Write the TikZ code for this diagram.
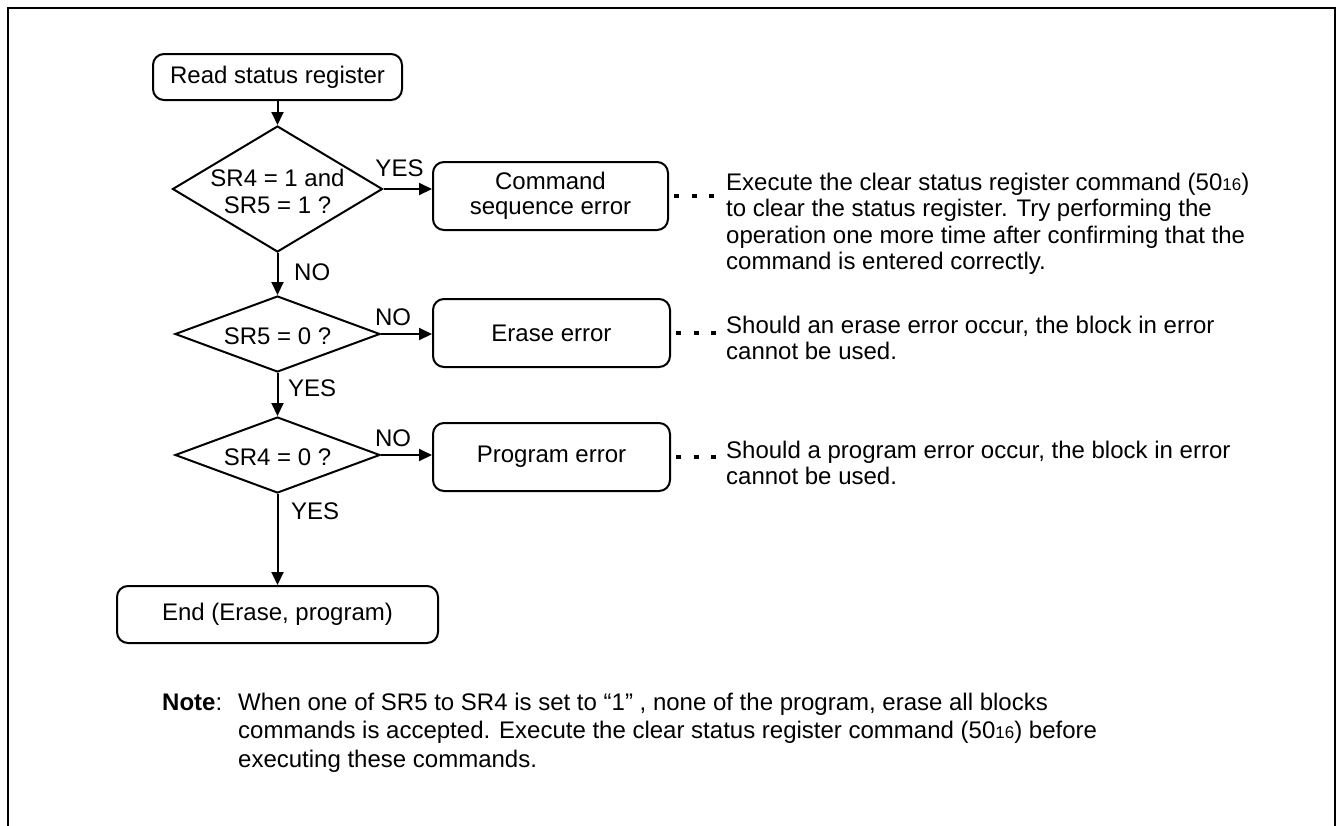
\documentclass[tikz,border=0pt]{standalone}
\usepackage{fontspec}
\setmainfont{Liberation Sans}
\usetikzlibrary{shapes.geometric,arrows.meta}
\begin{document}
\begin{tikzpicture}[x=1pt,y=-1pt,
  every node/.style={font=\fontsize{24}{25}\selectfont, inner sep=0pt},
  box/.style={draw, line width=2pt, rounded corners=11pt, align=center},
  dia/.style={draw, line width=2pt, diamond},
  arr/.style={line width=2pt, -{Triangle[length=13pt,width=12pt]}},
  dots/.style={line width=3.5pt, dash pattern=on 5pt off 12.5pt, dash phase=12.5pt},
  desc/.style={align=left, anchor=north west, font=\fontsize{24}{26.5}\selectfont},
  dlabel/.style={align=center, font=\fontsize{24}{27}\selectfont},
]
\useasboundingbox (0,0) rectangle (1339,825);
\draw[line width=2pt] (8,826) -- (8,8) -- (1335,8) -- (1335,826);

\node[box, minimum width=249pt, minimum height=46pt] (read) at (277.5,77) {Read status register};
\node[dia, minimum width=210pt, minimum height=126pt,
      label={[dlabel, yshift=-2.5pt]center:SR4 = 1 and\\SR5 = 1 ?}] (d1) at (277.5,189) {};
\node[box, minimum width=235pt, minimum height=68pt] (cmd) at (550.5,196) {Command\\sequence error};
\node[dia, minimum width=205pt, minimum height=76pt,
      label={[dlabel, yshift=-2pt]center:SR5 = 0 ?}] (d2) at (277.5,334) {};
\node[box, minimum width=237pt, minimum height=68pt] (erase) at (551.5,333) {Erase error};
\node[dia, minimum width=205pt, minimum height=76pt,
      label={[dlabel, yshift=-2pt]center:SR4 = 0 ?}] (d3) at (277.5,455) {};
\node[box, minimum width=237pt, minimum height=68pt] (prog) at (551.5,457) {Program error};
\node[box, minimum width=321pt, minimum height=57pt] (end) at (277.5,614.5) {End (Erase, program)};

\draw[arr] (read) -- (d1);
\draw[arr] (d1.east) -- (d1.east -| cmd.west);
\draw[arr] (d1) -- (d2);
\draw[arr] (d2.east) -- (d2.east -| erase.west);
\draw[arr] (d2) -- (d3);
\draw[arr] (d3.east) -- (d3.east -| prog.west);
\draw[arr] (d3) -- (end);

\node (l1) at (399.5,168) {YES};
\node[anchor=west] (l2) at (294,272) {NO};
\node (l3) at (393,317) {NO};
\node[anchor=west] (l4) at (288,388.5) {YES};
\node (l5) at (393,438.5) {NO};
\node[anchor=west] (l6) at (291,511.5) {YES};

\coordinate (e1) at (716,197);
\coordinate (e2) at (716,334);
\coordinate (e3) at (716,457);
\draw[dots] (cmd.east) -- (cmd.east -| e1);
\draw[dots] (erase.east) -- (erase.east -| e2);
\draw[dots] (prog.east) -- (prog.east -| e3);

\node[desc] (tcmd) at (726,171.5) {\strut Execute the clear status register command (50{\fontsize{17}{17}\selectfont 16})\\to clear the status register. Try performing the\\operation one more time after confirming that the\\command is entered correctly.};
\node[desc] (terase) at (726,314.5) {\strut Should an erase error occur, the block in error\\cannot be used.};
\node[desc] (tprog) at (726,439.5) {\strut Should a program error occur, the block in error\\cannot be used.};

\node[anchor=north west, font=\fontsize{24}{28.5}\selectfont] (note) at (162,690) {\renewcommand{\arraystretch}{1}\setlength{\tabcolsep}{0pt}%
\begin{tabular}[t]{@{}l@{}l@{}}
\makebox[76pt][l]{\textbf{Note}:} & When one of SR5 to SR4 is set to “1” , none of the program, erase all blocks\\
 & commands is accepted. Execute the clear status register command (50{\fontsize{17}{17}\selectfont 16}) before\\
 & executing these commands.
\end{tabular}};
\end{tikzpicture}
\end{document}
